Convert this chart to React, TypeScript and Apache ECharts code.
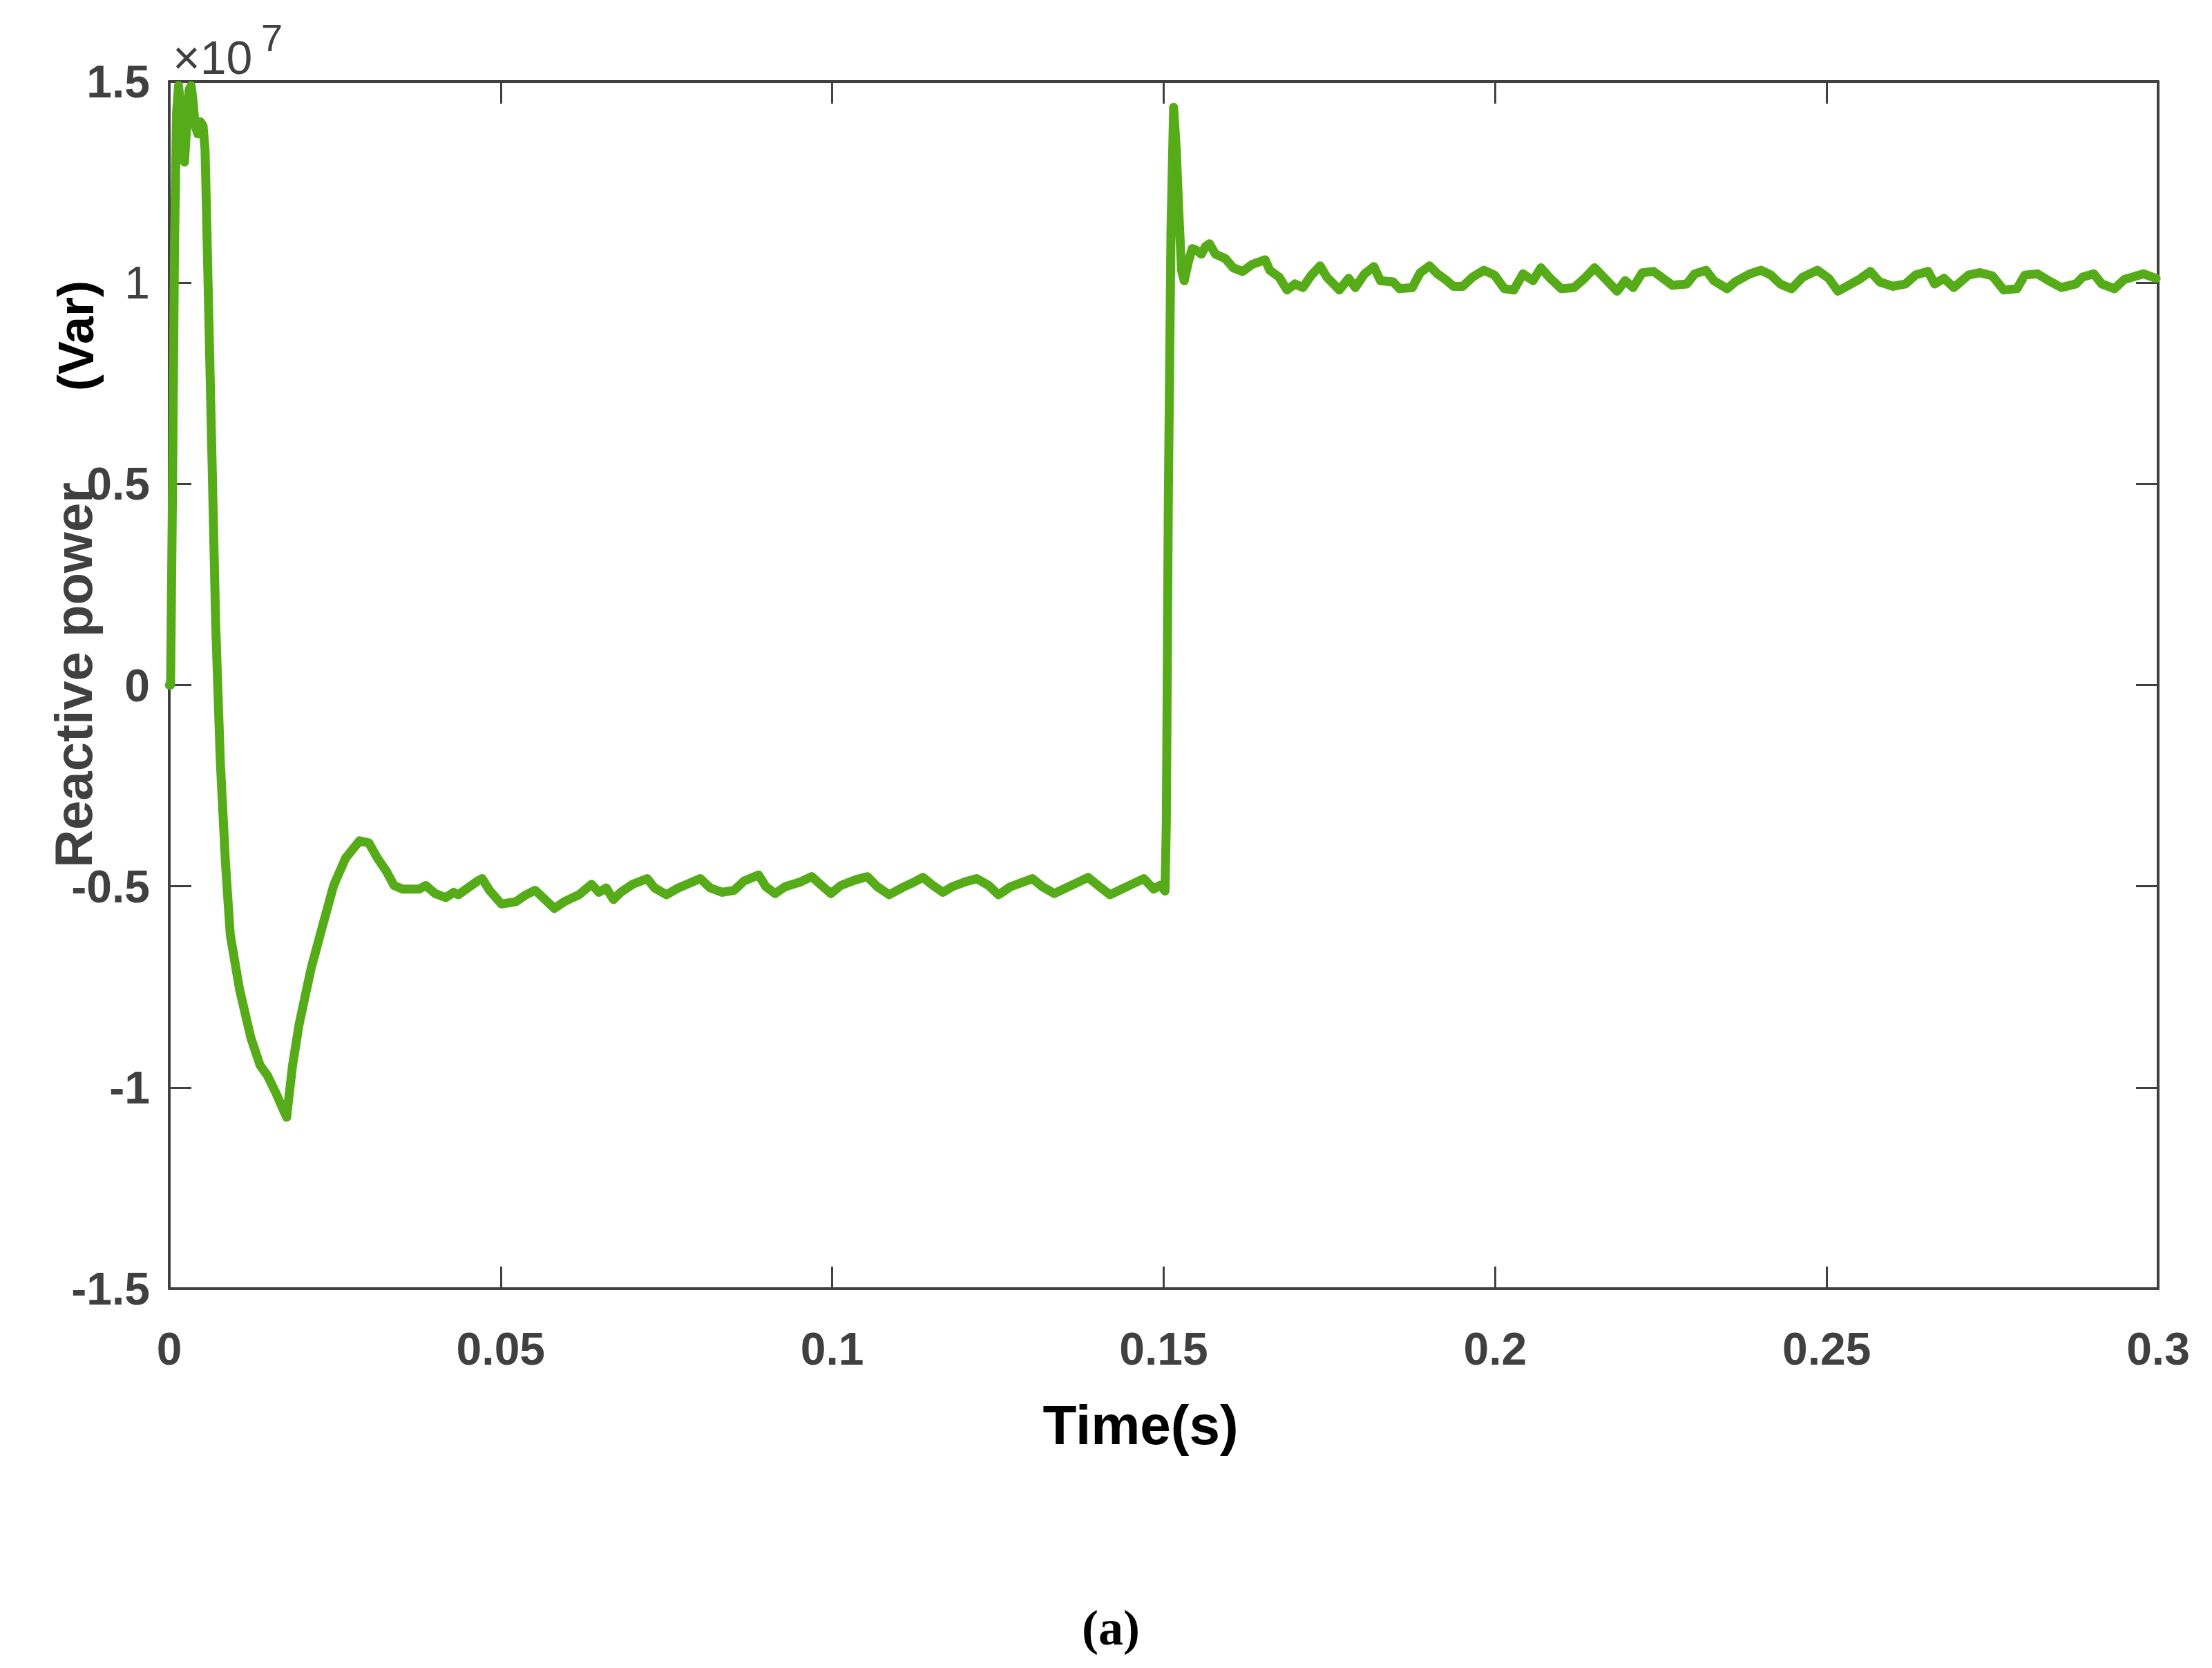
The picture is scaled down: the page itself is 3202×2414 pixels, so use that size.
import React, { useEffect, useRef } from "react";
import * as echarts from "echarts";

// Time (s)
const timeS: number[] = [
  0, 0.0002, 0.0005, 0.0008, 0.0011, 0.0014, 0.0017, 0.002, 0.0023, 0.0026,
  0.003, 0.0033, 0.0036, 0.0039, 0.0043, 0.0047, 0.0051, 0.0054, 0.0056, 0.0063,
  0.007, 0.0077, 0.0085, 0.0092, 0.0106, 0.0123, 0.0137, 0.0148, 0.0161, 0.017,
  0.0177, 0.0186, 0.0196, 0.0214, 0.0231, 0.0248, 0.0266, 0.0287, 0.0301, 0.0314,
  0.0328, 0.0339, 0.0352, 0.0377, 0.0387, 0.0401, 0.0417, 0.0429, 0.0436, 0.0465,
  0.0472, 0.0483, 0.0501, 0.0523, 0.0538, 0.0552, 0.0567, 0.0581, 0.0596, 0.0618,
  0.0637, 0.0648, 0.0659, 0.067, 0.0681, 0.0699, 0.0721, 0.0732, 0.075, 0.0768,
  0.0801, 0.0816, 0.0834, 0.0852, 0.0867, 0.0889, 0.09, 0.0914, 0.0929, 0.0951,
  0.0969, 0.0984, 0.0998, 0.1013, 0.1035, 0.1053, 0.1068, 0.1086, 0.1105, 0.1123,
  0.1137, 0.1152, 0.1167, 0.1181, 0.1199, 0.1218, 0.1236, 0.1251, 0.1269, 0.1302,
  0.1317, 0.1335, 0.1353, 0.1386, 0.1401, 0.1419, 0.1437, 0.1452, 0.147, 0.1485,
  0.1495, 0.1502, 0.1504, 0.1507, 0.1511, 0.1515, 0.1519, 0.1523, 0.1527, 0.1531,
  0.1537, 0.1543, 0.155, 0.1557, 0.1563, 0.1569, 0.1578, 0.1593, 0.1605, 0.1619,
  0.1633, 0.1653, 0.166, 0.1674, 0.1686, 0.1698, 0.171, 0.1722, 0.1736, 0.1746,
  0.1765, 0.1779, 0.1789, 0.1803, 0.1817, 0.1827, 0.1846, 0.1856, 0.1875, 0.1887,
  0.1901, 0.1913, 0.1925, 0.1937, 0.1951, 0.1966, 0.1983, 0.1999, 0.2014, 0.2028,
  0.2042, 0.2057, 0.2069, 0.2083, 0.21, 0.2119, 0.2133, 0.215, 0.2167, 0.2184,
  0.2196, 0.2208, 0.2222, 0.2239, 0.2253, 0.2267, 0.2289, 0.2301, 0.2318, 0.233,
  0.235, 0.2362, 0.2384, 0.2401, 0.2416, 0.243, 0.2447, 0.2464, 0.2486, 0.2503,
  0.2517, 0.2537, 0.2549, 0.2566, 0.258, 0.26, 0.2619, 0.2634, 0.2653, 0.2663,
  0.2677, 0.2692, 0.2714, 0.2731, 0.275, 0.2767, 0.2787, 0.2799, 0.2818, 0.2835,
  0.2854, 0.2876, 0.2886, 0.2903, 0.2915, 0.2934, 0.2949, 0.2978, 0.2997,
];

// Reactive power (x 10^7 Var)
const reactivePower: number[] = [
  0, 0.0, 0.5, 1.1, 1.42, 1.49, 1.44, 1.33, 1.3, 1.38,
  1.48, 1.49, 1.45, 1.39, 1.37, 1.4, 1.39, 1.33, 1.19, 0.67,
  0.155, -0.19, -0.447, -0.62, -0.756, -0.876, -0.945, -0.97, -1.014, -1.048,
  -1.074, -0.945, -0.842, -0.704, -0.6, -0.498, -0.43, -0.387, -0.392, -0.43,
  -0.464, -0.498, -0.507, -0.507, -0.498, -0.518, -0.528, -0.515, -0.521, -0.487,
  -0.481, -0.51, -0.544, -0.538, -0.521, -0.51, -0.533, -0.555, -0.538, -0.521,
  -0.495, -0.515, -0.504, -0.533, -0.515, -0.495, -0.481, -0.504, -0.521, -0.504,
  -0.481, -0.504, -0.515, -0.51, -0.487, -0.472, -0.501, -0.518, -0.501, -0.49,
  -0.476, -0.498, -0.518, -0.498, -0.484, -0.476, -0.501, -0.521, -0.504, -0.49,
  -0.478, -0.498, -0.515, -0.501, -0.49, -0.481, -0.498, -0.521, -0.501, -0.481,
  -0.501, -0.518, -0.504, -0.478, -0.498, -0.521, -0.507, -0.495, -0.481, -0.507,
  -0.497, -0.512, -0.342, 0.459, 1.128, 1.436, 1.33, 1.17, 1.03, 1.005,
  1.05, 1.085, 1.08, 1.071, 1.09, 1.097, 1.071, 1.06, 1.037, 1.028,
  1.045, 1.057, 1.031, 1.014, 0.982, 0.997, 0.988, 1.017, 1.042, 1.014,
  0.982, 1.011, 0.988, 1.022, 1.04, 1.005, 1.002, 0.985, 0.988, 1.025,
  1.042, 1.022, 1.008, 0.991, 0.991, 1.014, 1.031, 1.019, 0.985, 0.982,
  1.022, 1.005, 1.037, 1.011, 0.985, 0.988, 1.008, 1.037, 1.008, 0.979,
  1.005, 0.988, 1.025, 1.028, 1.011, 0.994, 0.997, 1.022, 1.031, 1.005,
  0.985, 1.002, 1.022, 1.031, 1.019, 0.997, 0.985, 1.014, 1.031, 1.011,
  0.979, 0.997, 1.008, 1.028, 1.002, 0.991, 0.997, 1.019, 1.028, 0.997,
  1.011, 0.988, 1.019, 1.025, 1.017, 0.982, 0.985, 1.019, 1.022, 1.005,
  0.988, 0.997, 1.014, 1.022, 0.997, 0.985, 1.008, 1.022, 1.011,
];

const xTickLabels: string[] = ["0", "0.05", "0.1", "0.15", "0.2", "0.25", "0.3"];
const yTickLabels: string[] = ["-1.5", "-1", "-0.5", "0", "0.5", "1", "1.5"];

const AXIS_COLOR = "#404040";
const LINE_COLOR = "#56ac18";
const FONT = "'Liberation Sans', Arial, Helvetica, sans-serif";

export default function App() {
  const ref = useRef<HTMLDivElement>(null);

  useEffect(() => {
    if (!ref.current) return;
    const chart = echarts.init(ref.current, null, { renderer: "svg" });
    const data = timeS.map((t, i) => [t, reactivePower[i]]);

    const xFmt = (v: number) => {
      const idx = Math.round(v / 0.05);
      return xTickLabels[idx] ?? "";
    };
    const yFmt = (v: number) => {
      const idx = Math.round((v + 1.5) / 0.5);
      const s = yTickLabels[idx] ?? "";
      return s === "1" ? "{thin|1}" : s;
    };

    const baseAxisLine = { show: true, onZero: false, lineStyle: { color: AXIS_COLOR, width: 4 } };
    const baseTick = { show: true, inside: true, length: 32, lineStyle: { color: AXIS_COLOR, width: 3 } };

    chart.setOption({
      animation: false,
      backgroundColor: "#ffffff",
      grid: { left: 245, right: 78, top: 118, bottom: 549, containLabel: false },
      xAxis: [
        {
          type: "value",
          min: 0,
          max: 0.3,
          interval: 0.05,
          position: "bottom",
          axisLine: baseAxisLine,
          axisTick: baseTick,
          splitLine: { show: false },
          axisLabel: {
            formatter: xFmt,
            color: AXIS_COLOR,
            fontFamily: FONT,
            fontWeight: "bold",
            fontSize: 66,
            margin: 54,
          },
        },
        {
          type: "value",
          min: 0,
          max: 0.3,
          interval: 0.05,
          position: "top",
          axisLine: baseAxisLine,
          axisTick: baseTick,
          splitLine: { show: false },
          axisLabel: { show: false },
        },
      ],
      yAxis: [
        {
          type: "value",
          min: -1.5,
          max: 1.5,
          interval: 0.5,
          position: "left",
          axisLine: baseAxisLine,
          axisTick: baseTick,
          splitLine: { show: false },
          axisLabel: {
            formatter: yFmt,
            color: AXIS_COLOR,
            fontFamily: FONT,
            fontWeight: "bold",
            fontSize: 66,
            margin: 28,
            rich: {
              thin: {
                color: AXIS_COLOR,
                fontFamily: FONT,
                fontWeight: "normal",
                fontSize: 66,
              },
            },
          },
        },
        {
          type: "value",
          min: -1.5,
          max: 1.5,
          interval: 0.5,
          position: "right",
          axisLine: baseAxisLine,
          axisTick: baseTick,
          splitLine: { show: false },
          axisLabel: { show: false },
        },
      ],
      series: [
        {
          type: "line",
          data,
          xAxisIndex: 0,
          yAxisIndex: 0,
          showSymbol: false,
          symbol: "none",
          smooth: false,
          lineStyle: { color: LINE_COLOR, width: 13, cap: "round", join: "round" },
          z: 1,
        },
      ],
      graphic: [
        {
          type: "text",
          x: 250,
          y: 83,
          style: {
            text: "×10",
            fill: AXIS_COLOR,
            font: `normal 68px ${FONT}`,
            align: "left",
            verticalAlign: "middle",
          },
        },
        {
          type: "text",
          x: 378,
          y: 54,
          style: {
            text: "7",
            fill: AXIS_COLOR,
            font: `normal 56px ${FONT}`,
            align: "left",
            verticalAlign: "middle",
          },
        },
        {
          type: "text",
          x: 106,
          y: 977,
          rotation: Math.PI / 2,
          style: {
            text: "Reactive power",
            fill: AXIS_COLOR,
            font: `bold 76px ${FONT}`,
            align: "center",
            verticalAlign: "middle",
          },
        },
        {
          type: "text",
          x: 110,
          y: 486,
          rotation: Math.PI / 2,
          style: {
            text: "(Var)",
            fill: "#000000",
            font: `bold 72px ${FONT}`,
            align: "center",
            verticalAlign: "middle",
          },
        },
        {
          type: "text",
          x: 1651,
          y: 2062,
          style: {
            text: "Time(s)",
            fill: "#000000",
            font: `bold 80px ${FONT}`,
            align: "center",
            verticalAlign: "middle",
          },
        },
        {
          type: "text",
          x: 1608,
          y: 2356,
          style: {
            text: "(a)",
            fill: "#000000",
            font: `bold 72px 'Liberation Serif', 'Times New Roman', serif`,
            align: "center",
            verticalAlign: "middle",
          },
        },
      ],
    });

    return () => chart.dispose();
  }, []);

  return (
    <div
      ref={ref}
      style={{ position: "absolute", left: 0, top: 0, width: 3202, height: 2414, background: "#fff" }}
    />
  );
}
